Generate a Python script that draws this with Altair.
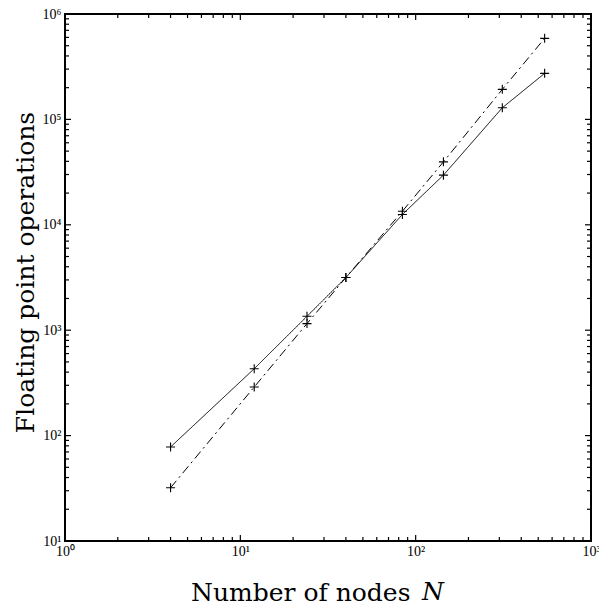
import altair as alt
import pandas as pd

# ---- data ----
nodes = [4, 12, 24, 40, 84, 144, 312, 544]
flops_solid = [78, 431, 1355, 3160, 12530, 29600, 128900, 273500]
flops_dashdot = [32, 289, 1155, 3160, 13460, 39550, 192700, 587700]

x_major = [1, 10, 100, 1000]
y_major = [10, 100, 1000, 10000, 100000, 1000000]
x_minor = [2, 3, 4, 5, 6, 7, 8, 9,
           20, 30, 40, 50, 60, 70, 80, 90,
           200, 300, 400, 500, 600, 700, 800, 900]
y_minor = [20, 30, 40, 50, 60, 70, 80, 90,
           200, 300, 400, 500, 600, 700, 800, 900,
           2000, 3000, 4000, 5000, 6000, 7000, 8000, 9000,
           20000, 30000, 40000, 50000, 60000, 70000, 80000, 90000,
           200000, 300000, 400000, 500000, 600000, 700000, 800000, 900000]

x_title = "Number of nodes"
x_title_var = ["N"]
y_title = "Floating point operations"

W, H = 526, 527
LFONT = "Liberation Serif"
TFONT = "DejaVu Serif"
TSIZE = 25
MAJ, MIN = 6, 4

df = pd.DataFrame({
    "N": nodes * 2,
    "F": flops_solid + flops_dashdot,
    "s": ["solid"] * len(nodes) + ["dashdot"] * len(nodes),
})

xs = alt.Scale(type="log", domain=[1, 1000], nice=False)
ys = alt.Scale(type="log", domain=[10, 1000000], nice=False)

sup = "['⁰','¹','²','³','⁴','⁵','⁶'][round(log(datum.value)/LN10)]"

xaxis = alt.Axis(values=x_major, labelExpr="'10' + " + sup, ticks=False, domain=False,
                 grid=False, labelFont=LFONT, labelFontSize=14, labelColor="black",
                 labelPadding=3, labelFlush=False,
                 title=x_title, titleFont=TFONT, titleFontSize=TSIZE,
                 titleFontWeight="normal", titleColor="black",
                 titleX=345, titleY=59, titleBaseline="alphabetic", titleAlign="right")
yaxis = alt.Axis(values=y_major, labelExpr="'10' + " + sup, ticks=False, domain=False,
                 grid=False, labelFont=LFONT, labelFontSize=14, labelColor="black",
                 labelPadding=4, labelFlush=False,
                 title=y_title, titleFont=TFONT, titleFontSize=TSIZE,
                 titleFontWeight="normal", titleColor="black",
                 titleX=-40, titleY=258, titleBaseline="middle", titleAlign="center",
                 titleAngle=270)

base = alt.Chart(df)

lines = base.mark_line(color="black", strokeWidth=1).encode(
    x=alt.X("N:Q", scale=xs, axis=xaxis),
    y=alt.Y("F:Q", scale=ys, axis=yaxis),
    strokeDash=alt.StrokeDash("s:N", scale=alt.Scale(domain=["solid", "dashdot"],
                                                   range=[[1, 0], [9, 4, 2, 4]]),
                              legend=None),
    detail="s:N",
)
pts = base.mark_point(shape="M-1,0L1,0M0,-1L0,1", filled=False, size=81,
                      strokeWidth=1.1, color="black", opacity=1).encode(
    x=alt.X("N:Q", scale=xs),
    y=alt.Y("F:Q", scale=ys),
)

var_label = alt.Chart(pd.DataFrame({"t": x_title_var})).mark_text(
    font=TFONT, fontSize=TSIZE, fontStyle="italic", align="left",
    baseline="alphabetic", color="black",
).encode(text="t:N", x=alt.value(357), y=alt.value(H + 59))

xmaj = pd.DataFrame({"v": x_major})
xmin = pd.DataFrame({"v": x_minor})
ymaj = pd.DataFrame({"v": y_major})
ymin = pd.DataFrame({"v": y_minor})


def xticks(d, L):
    b = alt.Chart(d).mark_rule(color="black", strokeWidth=1.2)
    bot = b.encode(x=alt.X("v:Q", scale=xs), y=alt.value(H), y2=alt.value(H - L))
    top = b.encode(x=alt.X("v:Q", scale=xs), y=alt.value(0), y2=alt.value(L))
    return [bot, top]


def yticks(d, L):
    b = alt.Chart(d).mark_rule(color="black", strokeWidth=1.2)
    left = b.encode(y=alt.Y("v:Q", scale=ys), x=alt.value(0), x2=alt.value(L))
    right = b.encode(y=alt.Y("v:Q", scale=ys), x=alt.value(W), x2=alt.value(W - L))
    return [left, right]


layers = ([lines, pts, var_label] + xticks(xmaj, MAJ) + xticks(xmin, MIN)
          + yticks(ymaj, MAJ) + yticks(ymin, MIN))

chart = alt.layer(*layers).properties(
    width=W, height=H,
    autosize=alt.AutoSizeParams(type="none"),
    padding={"left": 65, "top": 14, "right": 8, "bottom": 67},
    background="white",
).configure_view(stroke="black", strokeWidth=2)

chart.save("out.html", embed_options={"renderer": "svg", "actions": False})
